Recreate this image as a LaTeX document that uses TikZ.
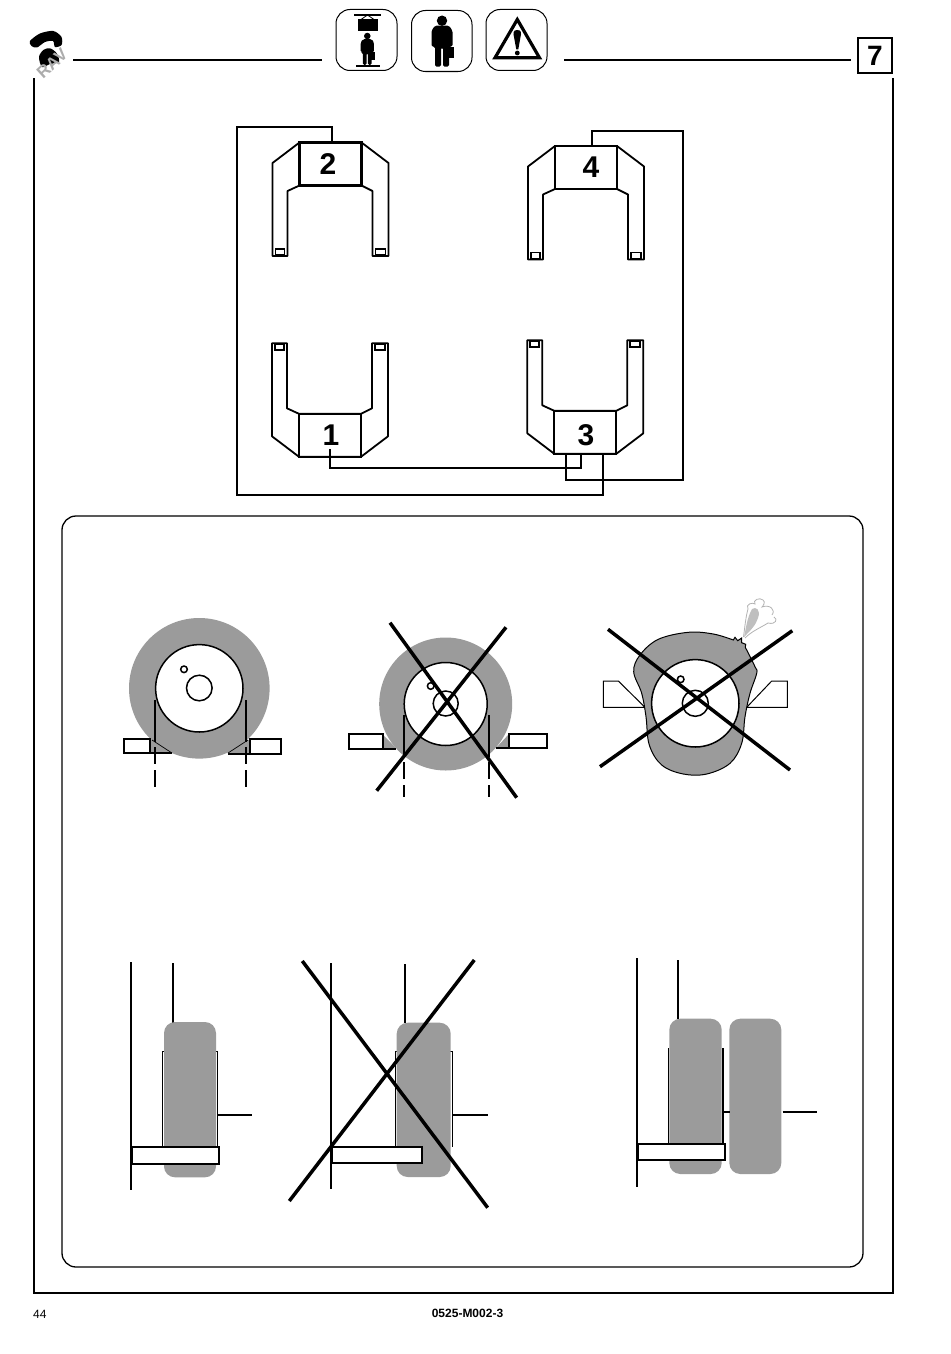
\documentclass[tikz,border=0pt]{standalone}
\usepackage{fontspec}
\setmainfont{Liberation Sans}
\definecolor{tyregray}{RGB}{155,155,155}
\tikzset{
  frameline/.style={draw=black,line width=2pt},
  hose/.style={draw=black,line width=2pt},
  thin line/.style={draw=black,line width=1pt},
  cross/.style={draw=black,line width=3.5pt},
  tyre/.style={fill=tyregray},
  rim/.style={draw=black,fill=white,line width=1.5pt},
  cut/.style={draw=black,line width=2pt,dash pattern=on 42pt off 5pt on 17pt off 6pt on 17pt off 30pt},
  block/.style={draw=black,fill=white,line width=2pt},
  iconbox/.style={draw=black,fill=white,line width=1pt,rounded corners=14pt},
  boxnode/.style={draw=black,line width=2.2pt,minimum width=62pt,minimum height=43pt,inner sep=0pt},
  numnode/.style={font=\fontsize{30}{30}\selectfont\bfseries,inner sep=0pt},
  yoke/.pic={
    \draw[line width=1.8pt,line join=round] (-58,-1) -- (-31,-21.5) -- (31,-21.5) -- (58,-1) -- (58,92) -- (42,92)
      -- (42,27) -- (31,21.5) -- (-31,21.5) -- (-43,27) -- (-43,92) -- (-58,92) -- cycle;
    \draw[line width=1.8pt] (-55,85) rectangle (-46,91);
    \draw[line width=1.8pt] (45,85) rectangle (55,91);
  },
  person/.pic={
    \fill (0,-46) circle (5.2);
    \fill[rounded corners=1.5pt] (-10.5,-36) -- (-7,-41) -- (7,-41) -- (10.5,-36) -- (10.5,-20) -- (7,-20) -- (7,0)
      -- (1,0) -- (1,-19) -- (-1,-19) -- (-1,0) -- (-7,0) -- (-7,-20) -- (-10.5,-20) -- cycle;
    \fill (6.5,-20) rectangle (11.5,-8.5);
  }
}
\begin{document}
\begin{tikzpicture}[x=1pt,y=-1pt]
  \useasboundingbox (0,0) rectangle (950,1354);

  % page frame
  \draw[frameline] (73,60) -- (322,60);
  \draw[frameline] (564,60) -- (851,60);
  \draw[frameline] (34,78) -- (34,1293) -- (893,1293) -- (893,78);
  \node[draw=black,line width=2pt,minimum width=34pt,minimum height=35pt,inner sep=0pt,
        font=\fontsize{28}{28}\selectfont\bfseries] (page) at (875,55.5) {7};

  % logo
  \fill plot[smooth cycle,tension=.5] coordinates {(30,41) (40,33.5) (53.3,31) (61.5,37) (61.5,45) (55,47) (53,41)
    (45,42) (37,47.5) (31.5,46)};
  \fill plot[smooth cycle,tension=.5] coordinates {(39,57) (43.3,50) (50,48.3) (56.7,53.3) (59,62) (50,64) (42,67)};
  \node[rotate=42,text=gray!65,font=\fontsize{17}{17}\selectfont\bfseries,inner sep=0pt] (logo) at (52,63.5) {RAV};

  % icons
  \draw[iconbox] (336,9.5) rectangle (397,70.5);
  \draw[iconbox] (411.5,10.5) rectangle (472,71.5);
  \draw[iconbox] (486,9.5) rectangle (547,70.5);
  \fill (354,14.5) rectangle (381,16);
  \draw[line width=.8pt] (361,19.5) -- (367.5,15) -- (374,19.5);
  \fill (358,19.5) rectangle (377.5,31);
  \fill (356,65) rectangle (380,66.7);
  \pic[scale=.63] at (367.3,65) {person};
  \pic at (442,66.7) {person};
  \draw[line width=3.2pt,miter limit=10] (517.3,19.5) -- (539.5,57.8) -- (495,57.8) -- cycle;
  \fill (517.3,30) .. controls (521.5,30) and (521.5,33) .. (520.5,37) -- (518.3,49.5) -- (516.3,49.5) -- (514,37)
    .. controls (513,33) and (513,30) .. (517.3,30) -- cycle;
  \fill (517.3,53) circle (2.4);

  % cylinders
  \pic at (330.5,164) {yoke};
  \pic at (586,167.5) {yoke};
  \pic[yscale=-1] at (330,435.3) {yoke};
  \pic[yscale=-1] at (585.3,432.3) {yoke};

  \begin{scope}[every node/.style={boxnode}]
    \node (b2) at (330.5,164) {};
    \node (b4) at (586,167.5) {};
    \node (b1) at (330,435.3) {};
    \node (b3) at (585.3,432.3) {};
  \end{scope}

  \begin{scope}[every node/.style={numnode}]
    \node (n2) at (328,164) {2};
    \node (n4) at (591,167) {4};
    \node (n1) at (331,435.5) {1};
    \node (n3) at (586,435) {3};
  \end{scope}

  \coordinate (h1) at (330,449);
  \coordinate (h1a) at (581,468);
  \coordinate (h2a) at (237,127);
  \coordinate (h2b) at (237,495);
  \coordinate (h4a) at (683,131);
  \coordinate (h4b) at (683,480);

  \draw[hose] (h1) |- (h1a) -- ([xshift=-4.3pt]b3.south);
  \draw[hose] ([xshift=1.5pt]b2.north) |- (h2a) -- (h2b) -| ([xshift=17.7pt]b3.south);
  \draw[hose] ([xshift=6pt]b4.north) |- (h4a) -- (h4b) -| ([xshift=-19.3pt]b3.south);

  % panel
  \draw[line width=1.3pt,rounded corners=14pt] (62,516) rectangle (863,1267);

  % wheel, correct
  \fill[tyre] (150,739) -- (150,753) -- (172,753) -- cycle;
  \fill[tyre] (250,739) -- (250,753) -- (228,753) -- cycle;
  \fill[tyre] (199.3,688.3) circle (70.3);
  \draw[rim] (199.3,688.3) circle (43.7);
  \draw[rim] (199.3,688) circle (12.8);
  \draw[rim] (184,669.3) circle (3.3);
  \draw[block] (124,738.7) rectangle (150,753);
  \draw[block] (250,738.7) rectangle (281,753.7);
  \draw[hose] (150,753) -- (171.7,753);
  \draw[hose] (227.7,753.7) -- (250,753.7);
  \draw[line width=.7pt] (152,740) -- (172,753);
  \draw[line width=.7pt] (248,740) -- (228,753);
  \draw[cut] (155,700) -- (155,787);
  \draw[cut] (246,700) -- (246,787);

  % wheel, too narrow
  \fill[tyre] (382.7,734.5) -- (382.7,748) -- (396,748) -- cycle;
  \fill[tyre] (509,734) -- (509,748) -- (496,748) -- cycle;
  \fill[tyre] (445.7,704) circle (66.5);
  \draw[rim] (445.7,704) circle (41.5);
  \draw[rim] (445.7,703.5) circle (12.5);
  \draw[rim] (430.7,686) circle (3.3);
  \draw[block] (349,734.3) rectangle (382.7,749);
  \draw[block] (509,733.5) rectangle (547,748);
  \draw[hose] (382.7,748.5) -- (396,748.5);
  \draw[hose] (496,748) -- (509,748);
  \draw[cut] (403.7,715) -- (403.7,797);
  \draw[cut] (489,715) -- (489,797);
  \draw[cross] (390,622.7) -- (516.7,797.7);
  \draw[cross] (506,627.3) -- (376.7,790.7);

  % wheel, burst
  \draw[draw=black,fill=white,line width=1pt] (603.3,681) -- (618.3,681) -- (645,707.3) -- (603.3,707.3) -- cycle;
  \draw[draw=black,fill=white,line width=1pt] (787.3,681) -- (771.7,681) -- (746.7,707.3) -- (787.3,707.3) -- cycle;
  \draw[line width=1pt,fill=tyregray] plot[smooth,tension=.6] coordinates {(745.3,647.3) (755,666.7) (756.7,673.3) (750,693.3)
    (745,716.7) (741.7,743.3) (730,763.3) (706.7,774) (683.3,774) (661.7,765) (649.3,745) (646,716.7) (641.7,693.3)
    (633.7,671.7) (640,655) (658.3,639.3) (688.3,632.3) (713.3,634) (733.3,640)}
    -- (735,637.3) -- (737.7,640.7) -- (741.7,638) -- (741.7,642.7) -- (745.7,644.3) -- cycle;
  \draw[rim] (695.3,703.3) circle (43.7);
  \draw[rim] (695.3,703.3) circle (13);
  \draw[rim] (680.7,679.3) circle (3.3);
  \fill[gray!50] (744,637) .. controls (746,628) and (747,618) .. (752,609) .. controls (756,606) and (761,610) .. (758,618)
    .. controls (756,625) and (750,631) .. (744,637) -- cycle;
  \draw[gray!60,line width=.8pt] (743.5,637) .. controls (745,625) and (746,616) .. (748,609) .. controls (745,604) and (753,602) .. (755,604)
    .. controls (752,600) and (760,597) .. (763,600) .. controls (766,602) and (763,606) .. (762,607) .. controls (770,604) and (776,610) .. (772,615);
  \draw[gray!60,line width=.8pt] (745,638) .. controls (752,631) and (760,628) .. (768,623) .. controls (776,625) and (778,619) .. (774,617);
  \draw[cross] (608,629.3) -- (790,770);
  \draw[cross] (792.3,630.7) -- (600,766.7);

  % side view, correct
  \draw[hose] (130.7,962.3) -- (130.7,1190);
  \draw[hose] (172.7,963.3) -- (172.7,1023);
  \draw[thin line] (162.3,1146.7) -- (162.3,1051) -- (217.3,1051) -- (217.3,1146.7);
  \fill[tyre,rounded corners=11pt] (164,1022) rectangle (216,1177.3);
  \draw[hose] (217.3,1114.7) -- (251.7,1114.7);
  \draw[block] (131.7,1146.7) rectangle (219.3,1163.7);

  % side view, off centre
  \draw[hose] (330.7,963.3) -- (330.7,1189);
  \draw[hose] (404.7,964.3) -- (404.7,1023.3);
  \draw[thin line] (395.3,1146.7) -- (395.3,1051.7) -- (452.7,1051.7) -- (452.7,1146.7);
  \fill[tyre,rounded corners=11pt] (396.7,1022.7) rectangle (450.7,1177);
  \draw[hose] (452.7,1114.7) -- (487.7,1114.7);
  \draw[block] (331.7,1146.7) rectangle (422,1162.7);
  \draw[cross] (302.3,961) -- (487.7,1207.7);
  \draw[cross] (474.3,960) -- (289.3,1201);

  % side view, twin
  \draw[hose] (636.7,958.3) -- (636.7,1186.7);
  \draw[hose] (677.7,960) -- (677.7,1019.3);
  \draw[thin line] (668.3,1143.5) -- (668.3,1048.3);
  \draw[hose] (722.7,1048.3) -- (722.7,1143.5);
  \fill[tyre,rounded corners=11pt] (669.3,1018.7) rectangle (721.7,1174);
  \fill[tyre,rounded corners=11pt] (729.3,1018.7) rectangle (781.3,1174);
  \draw[hose] (722.7,1111.7) -- (730,1111.7);
  \draw[hose] (782.7,1111.7) -- (817.3,1111.7);
  \draw[block] (637.7,1143.7) rectangle (725.3,1160);

  % footer
  \node[anchor=west,inner sep=0pt,font=\fontsize{12}{12}\selectfont] (pagenum) at (33,1314) {44};
  \node[inner sep=0pt,font=\fontsize{12}{12}\selectfont\bfseries] (code) at (467.5,1313) {0525-M002-3};
\end{tikzpicture}
\end{document}
